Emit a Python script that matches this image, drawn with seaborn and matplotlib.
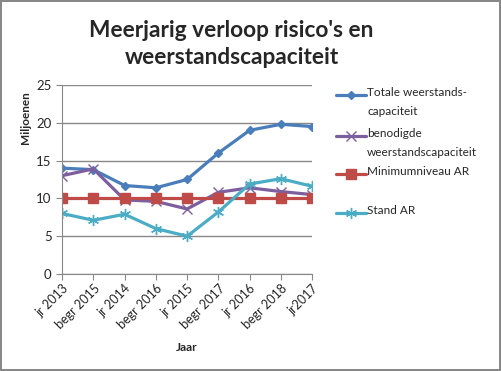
import matplotlib
matplotlib.use("Agg")
import matplotlib.pyplot as plt
from matplotlib.lines import Line2D
import pandas as pd
import seaborn as sns

jaren = ["jr 2013", "begr 2015", "jr 2014", "begr 2016", "jr 2015",
         "begr 2017", "jr 2016", "begr 2018", "jr2017"]
totale = [14.0, 13.8, 11.7, 11.4, 12.5, 16.0, 19.0, 19.8, 19.5]
benodigde = [13.0, 13.9, 9.8, 9.6, 8.6, 10.8, 11.4, 10.9, 10.5]
minimum = [10.1, 10.1, 10.1, 10.1, 10.1, 10.1, 10.1, 10.1, 10.1]
stand = [8.0, 7.1, 7.9, 6.0, 5.0, 8.2, 11.9, 12.6, 11.6]

reeksen = ["Totale weerstands-\ncapaciteit", "benodigde\nweerstandscapaciteit",
           "Minimumniveau AR", "Stand AR"]
kleuren = ["#4A7EBB", "#7D5FA0", "#BE4B48", "#4BACC6"]
markers = ["D", "x", "s", (6, 2, 0)]
msizes = [4.5, 7, 7, 8]

df = pd.DataFrame({
    "pos": list(range(len(jaren))) * 4,
    "waarde": totale + benodigde + minimum + stand,
    "reeks": [r for r in reeksen for _ in jaren],
})

sns.set_style("white")
plt.rcParams["font.family"] = ["Lato", "DejaVu Sans"]

fig = plt.figure(figsize=(5.01, 3.71), dpi=100)
fig.patch.set_edgecolor("#888888")
fig.patch.set_linewidth(1.5)
ax = fig.add_axes([0.124, 0.2615, 0.499, 0.5095])

for i, r in enumerate(reeksen):
    sub = df[df["reeks"] == r]
    sns.lineplot(data=sub, x="pos", y="waarde", ax=ax, color=kleuren[i],
                 marker=markers[i], markersize=msizes[i], linewidth=2.3,
                 markeredgecolor=kleuren[i], markeredgewidth=1.0, legend=False)

ax.set_xlim(0, len(jaren) - 1)
ax.set_ylim(0, 25)
ax.set_yticks([0, 5, 10, 15, 20, 25])
ax.set_xticks(range(len(jaren)))
ax.set_xticklabels(jaren, rotation=45, ha="right", rotation_mode="anchor", fontsize=9)
ax.tick_params(axis="y", labelsize=9.5, length=4, color="#888888", direction="out", left=True)
ax.tick_params(axis="x", length=4, color="#888888", direction="out", bottom=True, pad=2)
ax.yaxis.grid(True, color="#888888", linewidth=1)
for s in ["top", "right"]:
    ax.spines[s].set_visible(False)
for s in ["left", "bottom"]:
    ax.spines[s].set_color("#888888")
ax.set_xlabel("Jaar", fontsize=8.5, fontweight="bold", labelpad=8)
ax.set_ylabel("Miljoenen", fontsize=8.5, fontweight="bold")
ax.yaxis.set_label_coords(-0.125, 0.825)

fig.suptitle("Meerjarig verloop risico's en\nweerstandscapaciteit", x=0.462, y=0.945,
             fontsize=16.3, fontweight="bold", linespacing=1.3)

# legende zoals in Excel: symbool op hoogte van de eerste regel
leg_y = [0.744, 0.633, 0.531, 0.426]
for i, r in enumerate(reeksen):
    y = leg_y[i]
    fig.add_artist(Line2D([0.671, 0.701, 0.731], [y, y, y], transform=fig.transFigure,
                          color=kleuren[i], linewidth=2.3, marker=markers[i],
                          markersize=msizes[i], markevery=[1],
                          markeredgecolor=kleuren[i], markeredgewidth=1.0))
    fig.text(0.733, y + 0.021, r, fontsize=8.5, va="top", ha="left", linespacing=1.85)

fig.savefig("out.png", dpi=100)
